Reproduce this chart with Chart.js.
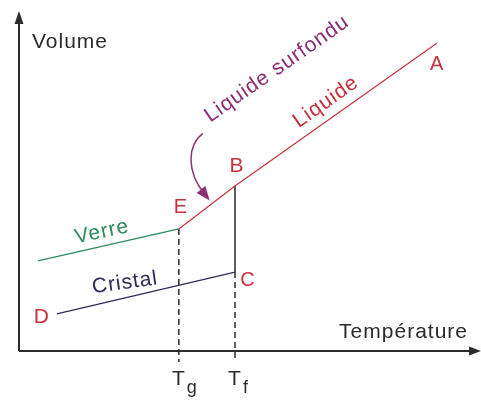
<!DOCTYPE html>
<html>
<head>
<meta charset="utf-8">
<script src="https://cdn.jsdelivr.net/npm/chart.js@4/dist/chart.umd.min.js"></script>
<style>
  html, body { margin: 0; padding: 0; background: #ffffff; }
  canvas { display: block; }
</style>
</head>
<body>
<canvas id="c" width="481" height="401"></canvas>
<script>
// ---- Data (arbitrary units: temperature 0-100, volume 0-100) ----
const liquideT   = [46.75, 90.5];   // B -> A
const liquideV   = [48.5, 90.6];
const surfonduT  = [34.6, 46.75];   // E -> B
const surfonduV  = [35.9, 48.5];
const verreT     = [4.1, 34.6];     // start -> E
const verreV     = [26.5, 35.9];
const cristalT   = [8.2, 46.75];    // D -> C
const cristalV   = [10.9, 23.2];
const fusionT    = [46.75, 46.75];  // B -> C (vertical)
const fusionV    = [48.5, 23.2];
const Tg = 34.6;
const Tf = 46.75;
const tickLabels = [{ main: 'T', sub: 'g', value: Tg }, { main: 'T', sub: 'f', value: Tf }];
const axisTitles = { x: 'Température', y: 'Volume' };
const pointNames = ['A', 'B', 'C', 'D', 'E'];

function pts(xs, ys) { return xs.map((x, i) => ({ x: x, y: ys[i] })); }

const FONT = '"Liberation Sans", Arial, sans-serif';
const RED = '#c8303c';
const GREEN = '#2e8a5c';
const NAVY = '#2c2c58';
const PURPLE = '#8a2f72';
const DARK = '#2b2b2b';

const decor = {
  id: 'decor',
  beforeDatasetsDraw(chart) {
    const ctx = chart.ctx, a = chart.chartArea;
    const sx = chart.scales.x, sy = chart.scales.y;
    const x0 = sx.getPixelForValue(0), y0 = sy.getPixelForValue(0);
    ctx.save();
    ctx.strokeStyle = DARK; ctx.fillStyle = DARK; ctx.lineWidth = 2;
    // y axis
    ctx.beginPath(); ctx.moveTo(x0, y0); ctx.lineTo(x0, a.top + 8); ctx.stroke();
    ctx.beginPath(); ctx.moveTo(x0, a.top); ctx.lineTo(x0 - 4.5, a.top + 13); ctx.lineTo(x0 + 4.5, a.top + 13); ctx.closePath(); ctx.fill();
    // x axis
    ctx.beginPath(); ctx.moveTo(x0, y0); ctx.lineTo(a.right - 8, y0); ctx.stroke();
    ctx.beginPath(); ctx.moveTo(a.right, y0); ctx.lineTo(a.right - 12, y0 - 4.5); ctx.lineTo(a.right - 12, y0 + 4.5); ctx.closePath(); ctx.fill();
    ctx.restore();
  },
  afterDatasetsDraw(chart) {
    const ctx = chart.ctx, a = chart.chartArea;
    const sx = chart.scales.x, sy = chart.scales.y;
    const px = v => sx.getPixelForValue(v), py = v => sy.getPixelForValue(v);
    function text(str, x, y, color, rot, size, align) {
      ctx.save();
      ctx.translate(x, y); ctx.rotate((rot || 0) * Math.PI / 180);
      ctx.font = (size || 21) + 'px ' + FONT;
      ctx.fillStyle = color;
      ctx.textAlign = align || 'center'; ctx.textBaseline = 'middle';
      try { ctx.letterSpacing = '1px'; } catch (e) {}
      ctx.fillText(str, 0, 0);
      ctx.restore();
    }
    // axis titles
    ctx.save();
    ctx.font = '21px ' + FONT; ctx.fillStyle = DARK; ctx.textBaseline = 'alphabetic';
    try { ctx.letterSpacing = '1px'; } catch (e) {}
    ctx.textAlign = 'left';
    ctx.fillText(axisTitles.y, px(0) + 13, a.top + 37);
    ctx.textAlign = 'right';
    ctx.fillText(axisTitles.x, a.right - 13, py(0) - 13);
    // tick labels Tg, Tf
    tickLabels.forEach(t => {
      const x = px(t.value);
      ctx.font = '21px ' + FONT; ctx.textAlign = 'center';
      ctx.fillText(t.main, x, py(0) + 34);
      ctx.font = '18px ' + FONT; ctx.textAlign = 'left';
      ctx.fillText(t.sub, x + 8, py(0) + 42);
    });
    ctx.restore();
    // point names
    const A = { x: px(liquideT[1]), y: py(liquideV[1]) };
    const B = { x: px(liquideT[0]), y: py(liquideV[0]) };
    const C = { x: px(cristalT[1]), y: py(cristalV[1]) };
    const D = { x: px(cristalT[0]), y: py(cristalV[0]) };
    const E = { x: px(surfonduT[0]), y: py(surfonduV[0]) };
    text(pointNames[0], A.x, A.y + 22, RED, 0, 20);
    text(pointNames[1], B.x + 2, B.y - 20, RED, 0, 21);
    text(pointNames[2], C.x + 13, C.y + 8, RED, 0, 20);
    text(pointNames[3], D.x - 15, D.y + 3, RED, 0, 21);
    text(pointNames[4], E.x + 2, E.y - 21, RED, 0, 20);
    // segment labels
    text('Verre', 102, 232, GREEN, -12, 21);
    text('Cristal', 125, 283, NAVY, -8, 21);
    text('Liquide', 326, 102, RED, -35, 21);
    text('Liquide surfondu', 277, 69, PURPLE, -35, 21);
    // curved arrow pointing at the E-B segment
    const t = 0.55;
    const tip = { x: E.x + (B.x - E.x) * t, y: E.y + (B.y - E.y) * t - 5 };
    const st = { x: tip.x - 7, y: tip.y - 67 };
    const c1 = { x: tip.x - 22, y: tip.y - 55 };
    const c2 = { x: tip.x - 24, y: tip.y - 30 };
    ctx.save();
    ctx.strokeStyle = PURPLE; ctx.fillStyle = PURPLE; ctx.lineWidth = 1.5;
    ctx.beginPath(); ctx.moveTo(st.x, st.y);
    ctx.bezierCurveTo(c1.x, c1.y, c2.x, c2.y, tip.x - 5, tip.y - 6);
    ctx.stroke();
    const dx = tip.x - c2.x, dy = tip.y - c2.y, L = Math.hypot(dx, dy);
    const ux = dx / L, uy = dy / L;
    const bx = tip.x - ux * 14, by = tip.y - uy * 14;
    ctx.beginPath(); ctx.moveTo(tip.x, tip.y);
    ctx.lineTo(bx - uy * 5.5, by + ux * 5.5);
    ctx.lineTo(bx + uy * 5.5, by - ux * 5.5);
    ctx.closePath(); ctx.fill();
    ctx.restore();
  }
};

const common = { showLine: true, pointRadius: 0, borderWidth: 1.2, clip: false, tension: 0, fill: false };

new Chart(document.getElementById('c'), {
  type: 'scatter',
  data: {
    datasets: [
      Object.assign({ label: 'Liquide', data: pts(liquideT, liquideV), borderColor: RED }, common),
      Object.assign({ label: 'Liquide surfondu', data: pts(surfonduT, surfonduV), borderColor: RED }, common),
      Object.assign({ label: 'Verre', data: pts(verreT, verreV), borderColor: GREEN }, common),
      Object.assign({ label: 'Cristal', data: pts(cristalT, cristalV), borderColor: NAVY }, common),
      Object.assign({ label: 'Fusion', data: pts(fusionT, fusionV), borderColor: '#4a4a5a' }, common, { borderWidth: 1.8 }),
      Object.assign({ label: 'Tg', data: [{ x: Tg, y: surfonduV[0] }, { x: Tg, y: -3.2 }], borderColor: DARK, borderDash: [6, 4] }, common, { borderWidth: 1.5 }),
      Object.assign({ label: 'Tf', data: [{ x: Tf, y: cristalV[1] }, { x: Tf, y: -3.2 }], borderColor: DARK, borderDash: [6, 4] }, common, { borderWidth: 1.5 })
    ]
  },
  options: {
    responsive: false,
    animation: false,
    layout: { padding: { left: 19, right: 0, top: 11, bottom: 50 } },
    scales: {
      x: { type: 'linear', min: 0, max: 100, display: false },
      y: { type: 'linear', min: 0, max: 100, display: false }
    },
    plugins: { legend: { display: false }, tooltip: { enabled: false } }
  },
  plugins: [decor]
});
</script>
</body>
</html>
